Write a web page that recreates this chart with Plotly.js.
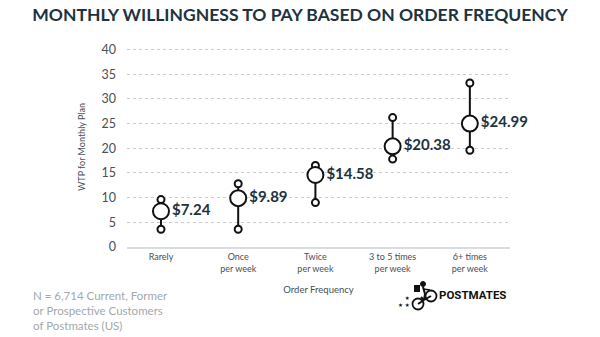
<!DOCTYPE html>
<html><head><meta charset="utf-8">
<script src="https://cdn.plot.ly/plotly-3.0.1.min.js"></script>
<style>html,body{margin:0;padding:0;background:#fff}#chart{width:600px;height:337px}</style>
</head><body><div id="chart"></div>
<script>
const categories = ["Rarely", "Once<br>per week", "Twice<br>per week", "3 to 5 times<br>per week", "6+ times<br>per week"];
const meanWTP = [7.24, 9.89, 14.58, 20.38, 24.99];
const lowWTP = [3.6, 3.6, 9.0, 17.8, 19.6];
const highWTP = [9.6, 12.8, 16.5, 26.2, 33.2];
const yTicks = [0, 5, 10, 15, 20, 25, 30, 35, 40];

const dark = "#1d3340";
const FONT = "Lato, sans-serif";

const lx = [], ly = [];
categories.forEach((c, i) => { lx.push(c, c, null); ly.push(lowWTP[i], highWTP[i], null); });

const traces = [
  {x: lx, y: ly, mode: "lines", line: {color: "#111", width: 2}, hoverinfo: "skip", showlegend: false},
  {x: categories.concat(categories), y: lowWTP.concat(highWTP), mode: "markers",
   marker: {symbol: "circle", size: 7, color: "#fff", line: {color: "#111", width: 2}}, showlegend: false},
  {x: categories, y: meanWTP, mode: "markers+text", cliponaxis: false,
   text: meanWTP.map(v => "$" + v.toFixed(2)), textposition: "middle right",
   textfont: {family: FONT, size: 15, color: dark, weight: 700},
   marker: {symbol: "circle", size: 16, color: "#fff", line: {color: "#111", width: 2}}, showlegend: false}
];

// logo decoration in paper coords (plot: 383 x 200 px)
const px = v => (v - 127) / 383, py = v => (247 - v) / 200;
const circ = (cx, cy, r, w, fill) => ({type: "circle", xref: "paper", yref: "paper", layer: "above",
  x0: px(cx - r), x1: px(cx + r), y0: py(cy + r), y1: py(cy - r),
  fillcolor: fill || "rgba(0,0,0,0)", line: {color: "#111", width: w}});
const seg = (x0, y0, x1, y1, w) => ({type: "line", xref: "paper", yref: "paper", layer: "above",
  x0: px(x0), y0: py(y0), x1: px(x1), y1: py(y1), line: {color: "#111", width: w || 2}});
const rect = (x0, y0, x1, y1) => ({type: "rect", xref: "paper", yref: "paper", layer: "above",
  x0: px(x0), y0: py(y1), x1: px(x1), y1: py(y0), fillcolor: "#111", line: {width: 0}});

const layout = {
  width: 600, height: 337,
  margin: {l: 127, r: 90, t: 47, b: 90},
  paper_bgcolor: "#fff", plot_bgcolor: "#fff",
  font: {family: FONT},
  title: {text: "<b>MONTHLY WILLINGNESS TO PAY BASED ON ORDER FREQUENCY</b>",
          font: {family: FONT, size: 17.5, color: dark}, x: 0.5, xanchor: "center", y: 0.975, yanchor: "top"},
  xaxis: {type: "category", range: [-0.44, 4.52], showgrid: false, zeroline: false,
          showline: true, linecolor: "#d9dde0", linewidth: 2, ticks: "",
          tickfont: {family: FONT, size: 9, color: "#4a4f55"},
          title: {text: "Order Frequency", font: {family: FONT, size: 9.5, color: "#4a4f55"}, standoff: 14}},
  yaxis: {range: [0, 40.5], tickvals: yTicks, showgrid: true, gridcolor: "#c9cdd0", griddash: "dot", gridwidth: 1,
          zeroline: false, showline: false, ticks: "", ticklabelstandoff: 10,
          tickfont: {family: FONT, size: 12.5, color: "#4a4f55"},
          title: {text: "WTP for Monthly Plan", font: {family: FONT, size: 9, color: "#4a4f55"}, standoff: 14}},
  shapes: [
    circ(418, 304, 5.5, 1.8), circ(431, 296, 5.5, 1.8), circ(423, 284, 2.5, 1, "#111"),
    seg(418, 304, 424, 300), seg(424, 300, 431, 296), seg(421, 297, 424, 300),
    seg(423, 287, 425, 294), seg(425, 294, 424, 300), seg(423, 289, 430, 290, 1.5),
    rect(414, 285, 420, 292)
  ],
  annotations: [
    {xref: "paper", yref: "paper", x: -0.25, y: -0.2, xanchor: "left", yanchor: "top", align: "left", showarrow: false,
     text: "N = 6,714 Current, Former<br>or Prospective Customers<br>of Postmates (US)",
     font: {family: FONT, size: 11.5, color: "#a3a8ad"}},
    {xref: "paper", yref: "paper", x: px(508), y: py(295), xanchor: "right", yanchor: "middle", showarrow: false,
     text: "<b>POSTMATES</b>", font: {family: "Roboto, sans-serif", size: 11.5, color: "#111"}},
    {xref: "paper", yref: "paper", x: px(412), y: py(301), xanchor: "right", yanchor: "middle", showarrow: false,
     align: "right", text: "★<br>★ ★", font: {family: "DejaVu Sans, sans-serif", size: 5.5, color: "#111"}}
  ]
};

Plotly.newPlot("chart", traces, layout, {displayModeBar: false, staticPlot: true});
</script></body></html>
